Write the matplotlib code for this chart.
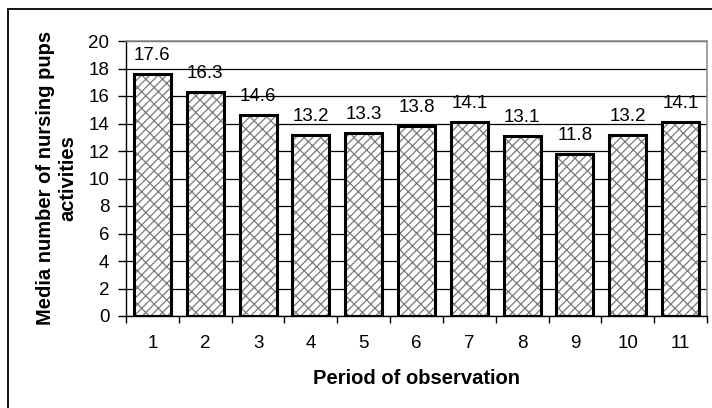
import matplotlib
matplotlib.use('Agg')
import matplotlib.pyplot as plt
from matplotlib.patches import Rectangle

plt.rcParams['font.family'] = ['Liberation Sans', 'DejaVu Sans']
plt.rcParams['hatch.linewidth'] = 0.9

periods = [1, 2, 3, 4, 5, 6, 7, 8, 9, 10, 11]
values = [17.6, 16.3, 14.6, 13.2, 13.3, 13.8, 14.1, 13.1, 11.8, 13.2, 14.1]
y_ticks = list(range(0, 21, 2))

fig = plt.figure(figsize=(7.12, 4.08), dpi=100)
ax = fig.add_axes([126 / 712, 1 - 316 / 408, 581 / 712, 275 / 408])

# hatched fill first (gray hatch), then the thick black outline
ax.bar(periods, values, width=0.7, color='white', edgecolor='#7a7a7a',
       hatch='////\\\\', linewidth=0, zorder=2)
ax.bar(periods, values, width=0.7, fill=False, edgecolor='black',
       linewidth=2.2, zorder=3)

for p, v in zip(periods, values):
    ax.annotate(f'{v:.1f}', (p, v), xytext=(0, 10), textcoords='offset points',
                ha='center', va='baseline', fontsize=13.5)

ax.set_xlim(0.5, 11.5)
ax.set_ylim(0, 20)
ax.set_yticks(y_ticks)
ax.set_xticks(periods)
ax.set_xticks([p + 0.5 for p in [0] + periods], minor=True)
ax.tick_params(axis='x', which='major', length=0, pad=14, labelsize=13.5)
ax.tick_params(axis='x', which='minor', length=5, width=1, direction='out')
ax.tick_params(axis='y', length=6, width=1, direction='out', pad=6, labelsize=13.5)

ax.set_axisbelow(True)
ax.yaxis.grid(True, color='black', linewidth=0.9)

for side in ['left', 'bottom']:
    ax.spines[side].set_color('black')
    ax.spines[side].set_linewidth(1)
for side in ['top', 'right']:
    ax.spines[side].set_color('#909090')
    ax.spines[side].set_linewidth(1.2)

ax.set_xlabel('Period of observation', fontsize=14.5, fontweight='bold', labelpad=12)
fig.text(57 / 712, 1 - 178 / 408, 'Media number of nursing pups\nactivities',
         rotation=90, ha='center', va='center', fontsize=14.5,
         fontweight='bold', linespacing=1.25)

# outer chart border, runs off the right and bottom edges
fig.patches.append(Rectangle((8 / 712, -0.05), 1.2, 1.05 - 9 / 408,
                             transform=fig.transFigure, fill=False,
                             edgecolor='black', linewidth=1.3))

fig.savefig('out.png', dpi=100)
